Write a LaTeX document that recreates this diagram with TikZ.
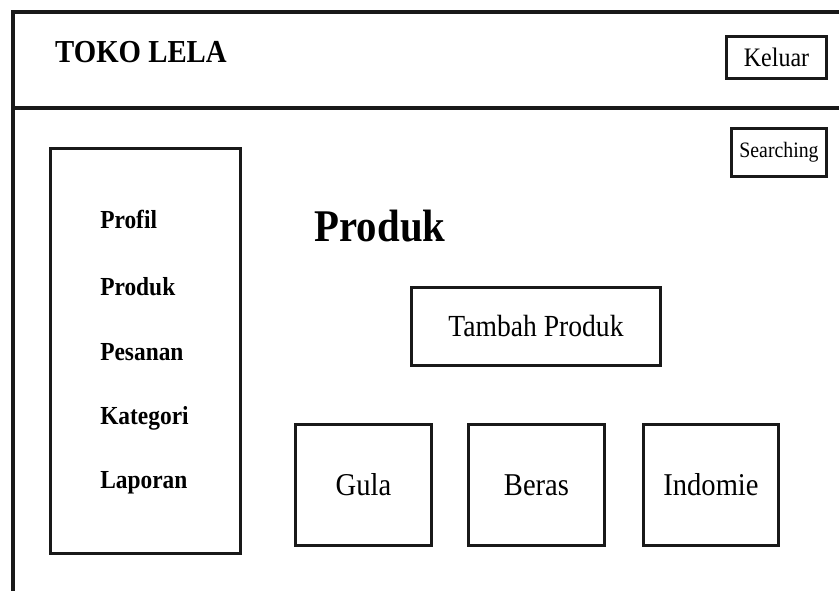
\documentclass[tikz,border=0pt]{standalone}
\usepackage{fontspec}
\setmainfont{Liberation Serif}
\newfontfamily\nar[FakeStretch=0.9]{Liberation Serif}
\begin{document}
\begin{tikzpicture}[x=0.75pt,y=-0.75pt,
  frame/.style={line width=2.3pt,draw=black!90},
  box/.style={draw=black!90,line width=2.3pt,rectangle,inner sep=0pt,align=center},
  lbl/.style={font=\nar\fontsize{20}{24}\selectfont},
  biglbl/.style={font=\nar\fontsize{23.8}{28}\selectfont},
  menuitem/.style={anchor=west,inner sep=0pt,font=\nar\bfseries\fontsize{19.5}{23}\selectfont}]
\useasboundingbox (0,0) rectangle (839,590);
% outer frame
\coordinate (fbl) at (13,595);
\coordinate (ftl) at (13,12);
\coordinate (ftr) at (845,12);
\coordinate (hl) at (13,108);
\coordinate (hr) at (845,108);
\draw[frame] (fbl) -- (ftl) -- (ftr);
\draw[frame] (hl) -- (hr);
% header
\node[inner sep=0pt,font=\nar\bfseries\fontsize{24}{28}\selectfont] (title) at (141,52) {TOKO LELA};
\node[box,lbl,minimum width=75pt,minimum height=31.5pt] (keluar) at (776.5,57.5) {Keluar};
\node[box,minimum width=71.25pt,minimum height=36pt,font=\nar\fontsize{16.5}{20}\selectfont] (search) at (779,152.5) {Searching};
% menu
\node[box,minimum width=142.5pt,minimum height=303.75pt] (menu) at (145.5,351) {};
\node[menuitem] (m1) at (100,219) {Profil};
\node[menuitem] (m2) at (100,287) {Produk};
\node[menuitem] (m3) at (100,352) {Pesanan};
\node[menuitem] (m4) at (100,418) {Kategori};
\node[menuitem] (m5) at (100,483) {Laporan};
% content
\node[inner sep=0pt,font=\nar\bfseries\fontsize{34}{40}\selectfont] (ptitle) at (380,226) {Produk};
\node[box,font=\nar\fontsize{23}{27}\selectfont,minimum width=186.75pt,minimum height=58.5pt] (tambah) at (536,326.5) {Tambah Produk};
\node[box,biglbl,minimum width=102pt,minimum height=90.75pt] (gula) at (363.5,485) {Gula};
\node[box,biglbl,minimum width=102pt,minimum height=90.75pt] (beras) at (536.5,485) {Beras};
\node[box,biglbl,minimum width=101.25pt,minimum height=90.75pt] (indomie) at (711,485) {Indomie};
\end{tikzpicture}
\end{document}
